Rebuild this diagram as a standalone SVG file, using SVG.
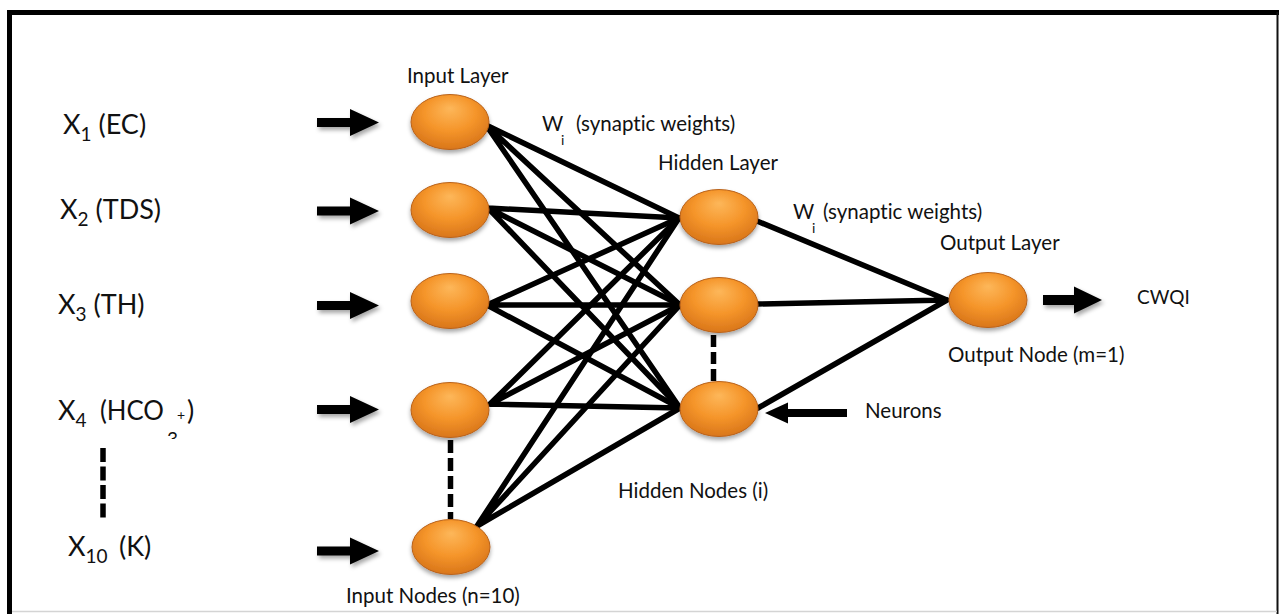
<svg xmlns="http://www.w3.org/2000/svg" width="1280" height="614" viewBox="0 0 1280 614">
  <defs>
    <radialGradient id="ball" cx="50%" cy="40%" r="60%" fx="50%" fy="25%">
      <stop offset="0%" stop-color="#FDB75A"/>
      <stop offset="55%" stop-color="#F5952A"/>
      <stop offset="100%" stop-color="#D9761A"/>
    </radialGradient>
    <filter id="soft" x="-30%" y="-30%" width="160%" height="170%">
      <feDropShadow dx="0" dy="3" stdDeviation="2" flood-color="#000" flood-opacity="0.35"/>
    </filter>
    <filter id="ashadow" x="-20%" y="-40%" width="150%" height="200%">
      <feDropShadow dx="2" dy="3" stdDeviation="2" flood-color="#000" flood-opacity="0.35"/>
    </filter>
    <path id="inArrow" d="M0 -4.5 H33 V-13.5 L62 0 L33 13.5 V4.5 H0 Z"/>
    <clipPath id="cut3"><rect x="160" y="420" width="20" height="19"/></clipPath>
    <style>
      .node { fill: url(#ball); stroke: #B9621A; stroke-width: 1; filter: url(#soft); }
      .link { stroke: #000; stroke-width: 5.5; stroke-linecap: round; fill: none; }
      .dash { stroke: #000; stroke-width: 5.5; fill: none; }
      .arrow { fill: #000; filter: url(#ashadow); }
      .lbl { font-family: Lato, "Open Sans", sans-serif; font-size: 20.5px; fill: #111; font-variant-ligatures: none; }
      .var { font-family: Lato, "Open Sans", sans-serif; font-size: 27px; fill: #111; }
      .sub { font-size: 19px; }
    </style>
  </defs>

  <rect width="1280" height="614" fill="#fff"/>

  <!-- frame -->
  <g id="frame">
    <line x1="7" y1="12.5" x2="1279" y2="12.5" stroke="#000" stroke-width="5"/>
    <line x1="9.5" y1="10" x2="9.5" y2="614" stroke="#000" stroke-width="5"/>
    <line x1="1277.5" y1="12" x2="1277.5" y2="614" stroke="#111" stroke-width="2"/>
    <line x1="12" y1="611.5" x2="1277" y2="611.5" stroke="#d4d4d4" stroke-width="1.5"/>
  </g>

  <!-- connections -->
  <g id="connectors">
    <!-- input to hidden -->
    <path class="link" d="M486 125 L679 218 M486 125 L680 305 M486 125 L680 408"/>
    <path class="link" d="M488 208 L679 218 M488 208 L680 305 M488 208 L680 408"/>
    <path class="link" d="M487 305 L679 218 M487 305 L680 305 M487 305 L680 408"/>
    <path class="link" d="M490 404 L679 218 M490 404 L680 305 M490 404 L680 408"/>
    <path class="link" d="M477 526 L679 218 M477 526 L680 305 M477 526 L680 408"/>
    <!-- hidden to output -->
    <path class="link" d="M757 221 L947 300 M758 304 L947 300 M758 408 L947 300"/>
    <!-- elided nodes -->
    <line class="dash" x1="450.5" y1="440" x2="450.5" y2="519" stroke-dasharray="13 5"/>
    <line class="dash" x1="713.5" y1="335" x2="713.5" y2="383" stroke-dasharray="12 5" stroke-width="5"/>
    <line class="dash" x1="103" y1="448" x2="103" y2="520" stroke-dasharray="14 4.5" stroke-width="6"/>
    <!-- block arrows -->
    <use href="#inArrow" class="arrow" x="317" y="122.5"/>
    <use href="#inArrow" class="arrow" x="317" y="211"/>
    <use href="#inArrow" class="arrow" x="317" y="305.5"/>
    <use href="#inArrow" class="arrow" x="317" y="409.5"/>
    <use href="#inArrow" class="arrow" x="317" y="551"/>
    <path class="arrow" d="M1043 295 H1074 V286.5 L1102 300 L1074 313.5 V305 H1043 Z"/>
    <path fill="#000" d="M847 409 H788 V402.5 L765 413 L788 423.5 V417 H847 Z"/>
  </g>

  <!-- input layer -->
  <g id="input1"><ellipse class="node" cx="450" cy="122" rx="39" ry="27.5"/></g>
  <g id="input2"><ellipse class="node" cx="450" cy="210" rx="39" ry="27.5"/></g>
  <g id="input3"><ellipse class="node" cx="450" cy="301" rx="39" ry="27.5"/></g>
  <g id="input4"><ellipse class="node" cx="450" cy="410" rx="39" ry="27.5"/></g>
  <g id="input10"><ellipse class="node" cx="451" cy="547" rx="39" ry="27.5"/></g>

  <!-- hidden layer -->
  <g id="hidden1"><ellipse class="node" cx="719" cy="217" rx="39" ry="27.5"/></g>
  <g id="hidden2"><ellipse class="node" cx="719" cy="305" rx="39" ry="27.5"/></g>
  <g id="hiddenI"><ellipse class="node" cx="719" cy="409" rx="39" ry="27.5"/></g>

  <!-- output layer -->
  <g id="output"><ellipse class="node" cx="988" cy="300" rx="39" ry="27.5"/></g>

  <!-- input variables -->
  <g id="variables" class="var">
    <text x="63" y="134">X<tspan class="sub" dy="7">1</tspan><tspan dy="-7"> (EC)</tspan></text>
    <text x="60" y="219">X<tspan class="sub" dy="7">2</tspan><tspan dy="-7"> (TDS)</tspan></text>
    <text x="58" y="314">X<tspan class="sub" dy="7">3</tspan><tspan dy="-7"> (TH)</tspan></text>
    <text x="58" y="420">X<tspan class="sub" dy="7">4</tspan></text>
    <text x="100" y="420" textLength="64" lengthAdjust="spacingAndGlyphs">(HCO</text>
    <text x="167" y="446" class="sub" clip-path="url(#cut3)">3</text>
    <text x="177" y="420" style="font-size:14px">+</text>
    <text x="187" y="420">)</text>
    <text x="68" y="556">X<tspan class="sub" dy="7">10</tspan></text>
    <text x="119" y="556">(K)</text>
  </g>

  <!-- labels -->
  <g id="labels" class="lbl">
    <text x="407" y="83">Input Layer</text>
    <text x="542" y="131">W</text>
    <text x="561" y="145" style="font-size:14px">i</text>
    <text x="576" y="131">(synaptic weights)</text>
    <text x="658" y="170">Hidden Layer</text>
    <text x="793" y="219">W</text>
    <text x="812" y="233" style="font-size:14px">i</text>
    <text x="823" y="219">(synaptic weights)</text>
    <text x="940" y="250">Output Layer</text>
    <text x="1137" y="304" style="font-size:19px">CWQI</text>
    <text x="948" y="362">Output Node (m=1)</text>
    <text x="865" y="418">Neurons</text>
    <text x="618" y="498">Hidden Nodes (i)</text>
    <text x="346" y="603">Input Nodes (n=10)</text>
  </g>
</svg>
